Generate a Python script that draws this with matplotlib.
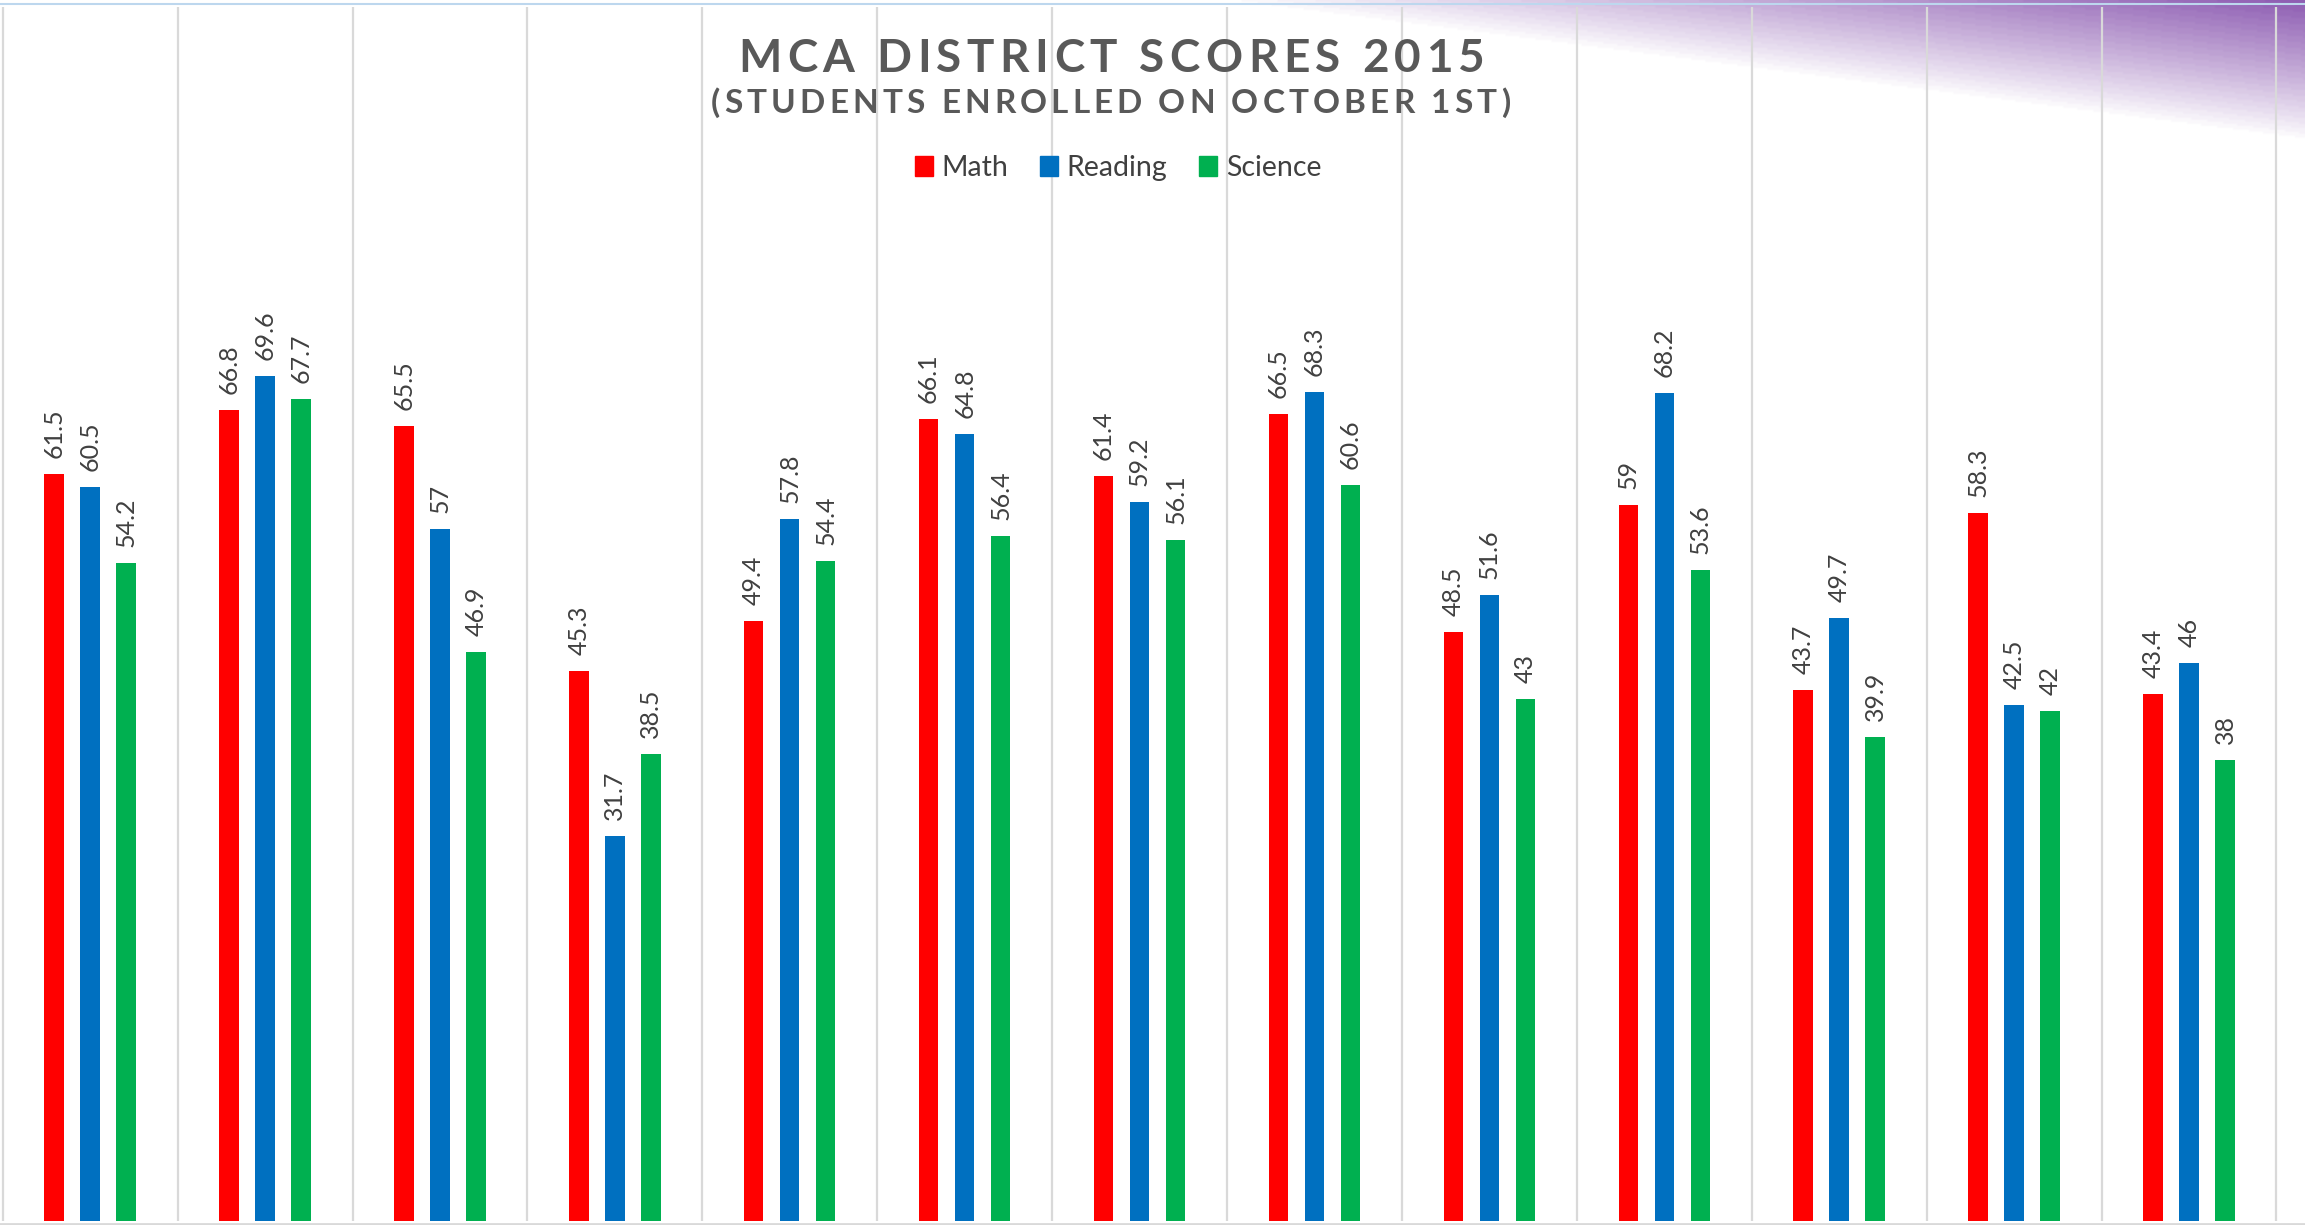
"""
MCA district scores 2015 - histogramme groupe math / lecture / sciences
"""
import numpy as np
import matplotlib.pyplot as plt
from matplotlib.patches import Patch
from matplotlib.lines import Line2D

# 13 ecoles (noms coupes sur l'image d'origine)
ecoles = list(range(1, 14))
math = [61.5, 66.8, 65.5, 45.3, 49.4, 66.1, 61.4, 66.5, 48.5, 59, 43.7, 58.3, 43.4]
reading = [60.5, 69.6, 57, 31.7, 57.8, 64.8, 59.2, 68.3, 51.6, 68.2, 49.7, 42.5, 46]
science = [54.2, 67.7, 46.9, 38.5, 54.4, 56.4, 56.1, 60.6, 43, 53.6, 39.9, 42, 38]
series = ["Math", "Reading", "Science"]
couleurs = ["#FF0000", "#0070C0", "#00B050"]

W, H = 2305, 1225
GRIS = "#595959"
fig = plt.figure(figsize=(W / 100, H / 100), dpi=100)

# fond : degrade violet en haut a droite
bg = fig.add_axes([0, 0, 1, 1], zorder=0)
bg.set_axis_off()
yy, xx = np.mgrid[0:H:2, 0:W:2]
d = (140 * (xx - 1210) - 1085 * yy) / np.hypot(1085, 140)
alpha = np.clip(d / 135, 0, 1) ** 0.9
alpha = np.floor(alpha * 24) / 24 * 0.95  # un peu de "bandes" comme l'original
img = np.zeros(xx.shape + (4,))
img[..., 0], img[..., 1], img[..., 2] = 0.54, 0.34, 0.69
img[..., 3] = alpha
bg.imshow(img, extent=[0, W, H, 0], aspect="auto", interpolation="bilinear")
bg.set_xlim(0, W)
bg.set_ylim(H, 0)

ax = fig.add_axes([0, 4 / H, 1, 1214 / H], zorder=1)
ax.patch.set_alpha(0)
x = np.arange(len(ecoles))
largeur = 0.111
decal = 0.206
for k, (vals, c) in enumerate(zip([math, reading, science], couleurs)):
    pos = x + (k - 1) * decal
    ax.bar(pos, vals, largeur, color=c, zorder=2)
    for xi, v in zip(pos, vals):
        ax.annotate(f"{v:g}", (xi, v), xytext=(0, 16), textcoords="offset pixels",
                    rotation=90, ha="center", va="bottom", fontsize=18, color="#404040",
                    family="Lato")
for b in np.arange(-0.5, len(ecoles), 1):
    ax.axvline(b, color="#D9D9D9", lw=1.6, zorder=1)
ax.set_xlim(-0.5 - 2.7 / 174.9, -0.5 + (W - 2.7) / 174.9)
ax.set_ylim(0, 100)
ax.set_xticks([])
ax.set_yticks([])
for s in ax.spines.values():
    s.set_visible(False)

# bordures
fig.add_artist(Line2D([0, 1], [1.5 / H, 1.5 / H], color="#D9D9D9", lw=2))
fig.add_artist(Line2D([0, 1], [1 - 4 / H, 1 - 4 / H], color="#BDD7EE", lw=1.5))


def texte_espace(s, x0, x1, y, size, **kw):
    """ecrit s lettre par lettre entre x0 et x1 (pixels), pour imiter l'espacement"""
    r = fig.canvas.get_renderer()

    def larg(t):
        tt = fig.text(0, 0, t, size=size, **kw)
        w = tt.get_window_extent(r).width
        tt.remove()
        return w
    wI = larg("I")
    pos = [larg(s[:i] + "I") - wI if i else 0 for i in range(len(s))]
    track = (x1 - x0 - larg(s)) / (len(s) - 1)
    for i, ch in enumerate(s):
        if ch == " ":
            continue
        fig.text((x0 + pos[i] + i * track) / W, 1 - y / H, ch, size=size,
                 ha="left", va="baseline", zorder=5, **kw)


texte_espace("MCA DISTRICT SCORES 2015", 738, 1485, 72, 33,
             weight="bold", color=GRIS, family="Lato")
texte_espace("(STUDENTS ENROLLED ON OCTOBER 1ST)", 711, 1510, 113, 24,
             weight="bold", color=GRIS, family="Lato")

poignees = [Patch(color=c) for c in couleurs]
fig.legend(poignees, series, loc="center", bbox_to_anchor=(1118 / W, 1 - 168 / H),
           ncol=3, frameon=False, handlelength=0.65, handleheight=0.65,
           handletextpad=0.3, columnspacing=1.1, labelcolor="#404040",
           prop={"family": "Lato", "size": 20.5})

fig.savefig("out.png", dpi=100)
